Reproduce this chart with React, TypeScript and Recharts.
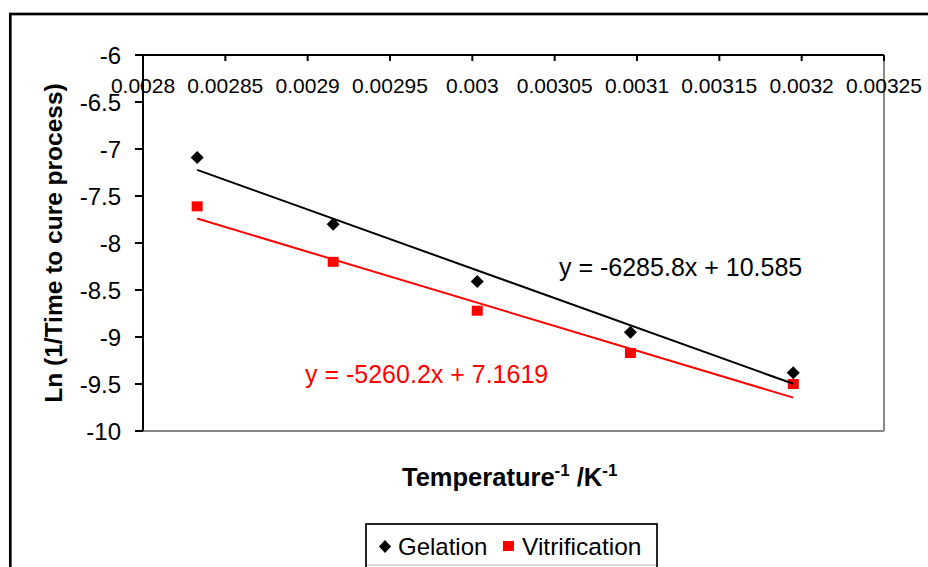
import React from "react";
import { ScatterChart, Scatter, XAxis, YAxis, ReferenceLine } from "recharts";

const FONT = "'Liberation Sans', Arial, sans-serif";

// 1/T values (K^-1) and ln(1/time)
const invTemp = [0.0028329, 0.0029155, 0.003003, 0.003096, 0.0031949];
const gelation = [-7.09, -7.8, -8.41, -8.95, -9.38];
const vitrification = [-7.61, -8.2, -8.72, -9.17, -9.5];

// trendline ends (first and last x)
const fitX = [0.0028329, 0.0031949];
const gelationFit = [-7.222, -9.498];
const vitrificationFit = [-7.74, -9.645];

const xTicks = [0.0028, 0.00285, 0.0029, 0.00295, 0.003, 0.00305, 0.0031, 0.00315, 0.0032, 0.00325];
const yTicks = [-10, -9.5, -9, -8.5, -8, -7.5, -7, -6.5, -6];

const gelData = invTemp.map((x, i) => ({ x, y: gelation[i] }));
const vitData = invTemp.map((x, i) => ({ x, y: vitrification[i] }));
const gelFitData = fitX.map((x, i) => ({ x, y: gelationFit[i] }));
const vitFitData = fitX.map((x, i) => ({ x, y: vitrificationFit[i] }));

const XTick = (props: any) => {
  const { x, y, payload } = props;
  return (
    <g>
      <line x1={x} x2={x} y1={y} y2={y + 6} stroke="#000" strokeWidth={2} />
      <text x={x} y={y + 38} textAnchor="middle" fontSize={21} fill="#000" fontFamily={FONT}>
        {String(payload.value)}
      </text>
    </g>
  );
};

const Diamond = (props: any) => {
  const { cx, cy } = props;
  const r = 6.5;
  return <polygon points={`${cx},${cy - r} ${cx + r},${cy} ${cx},${cy + r} ${cx - r},${cy}`} fill="#000" />;
};

const Square = (props: any) => {
  const { cx, cy } = props;
  return <rect x={cx - 5.5} y={cy - 5} width={11} height={10} fill="#ff0000" />;
};

const NoDot = () => <g />;

export default function App() {
  return (
    <div style={{ position: "absolute", left: 0, top: 0, width: 928, height: 567, overflow: "hidden", background: "#fff" }}>
      <ScatterChart width={928} height={567} margin={{ top: 25, right: 44, bottom: 136, left: 83 }}>
        <XAxis
          type="number"
          dataKey="x"
          orientation="top"
          height={30}
          domain={[0.0028, 0.00325]}
          ticks={xTicks}
          allowDataOverflow
          tickSize={0}
          tickMargin={0}
          tick={<XTick />}
          axisLine={{ stroke: "#000", strokeWidth: 2 }}
        />
        <YAxis
          type="number"
          dataKey="y"
          width={60}
          domain={[-10, -6]}
          ticks={yTicks}
          allowDataOverflow
          tickSize={8}
          tickMargin={14}
          tick={{ fill: "#000", fontSize: 24, fontFamily: FONT }}
          tickLine={{ stroke: "#000", strokeWidth: 2 }}
          axisLine={{ stroke: "#000", strokeWidth: 2 }}
        />
        <ReferenceLine x={0.00325} stroke="#888" strokeWidth={2} />
        <ReferenceLine y={-10} stroke="#888" strokeWidth={2} />
        <Scatter data={gelData} shape={<Diamond />} isAnimationActive={false} />
        <Scatter data={vitData} shape={<Square />} isAnimationActive={false} />
        <Scatter data={vitFitData} line={{ stroke: "#ff0000", strokeWidth: 2 }} shape={<NoDot />} isAnimationActive={false} />
        <Scatter data={gelFitData} line={{ stroke: "#000", strokeWidth: 2 }} shape={<NoDot />} isAnimationActive={false} />
      </ScatterChart>

      <svg width={928} height={567} style={{ position: "absolute", left: 0, top: 0, pointerEvents: "none" }} fontFamily={FONT}>
        <rect x={10.3} y={14} width={1000} height={1000} fill="none" stroke="#000" strokeWidth={2.7} />
        <text x={559} y={276} fontSize={25} fill="#000">y = -6285.8x + 10.585</text>
        <text x={305} y={383} fontSize={25} fill="#ff0000">y = -5260.2x + 7.1619</text>
        <text x={402} y={486} fontSize={25.5} fontWeight="bold" fill="#000">
          Temperature
          <tspan fontSize={17} dy={-10}>-1</tspan>
          <tspan fontSize={25.5} dy={10}> /K</tspan>
          <tspan fontSize={17} dy={-10}>-1</tspan>
        </text>
        <text x={62} y={243} fontSize={24.5} fontWeight="bold" fill="#000" textAnchor="middle" transform="rotate(-90 62 243)">
          Ln (1/Time to cure process)
        </text>
        <rect x={366} y={524} width={291} height={80} fill="#fff" stroke="#000" strokeWidth={1.7} />
        <line x1={367} x2={656} y1={565} y2={565} stroke="#ccc" strokeWidth={1.5} />
        <polygon points="385,540 391,546.5 385,553 379,546.5" fill="#000" />
        <text x={398} y={555} fontSize={24} fill="#000">Gelation</text>
        <rect x={503} y={541} width={11} height={10} fill="#ff0000" />
        <text x={522} y={555} fontSize={24.5} fill="#000">Vitrification</text>
      </svg>
    </div>
  );
}
